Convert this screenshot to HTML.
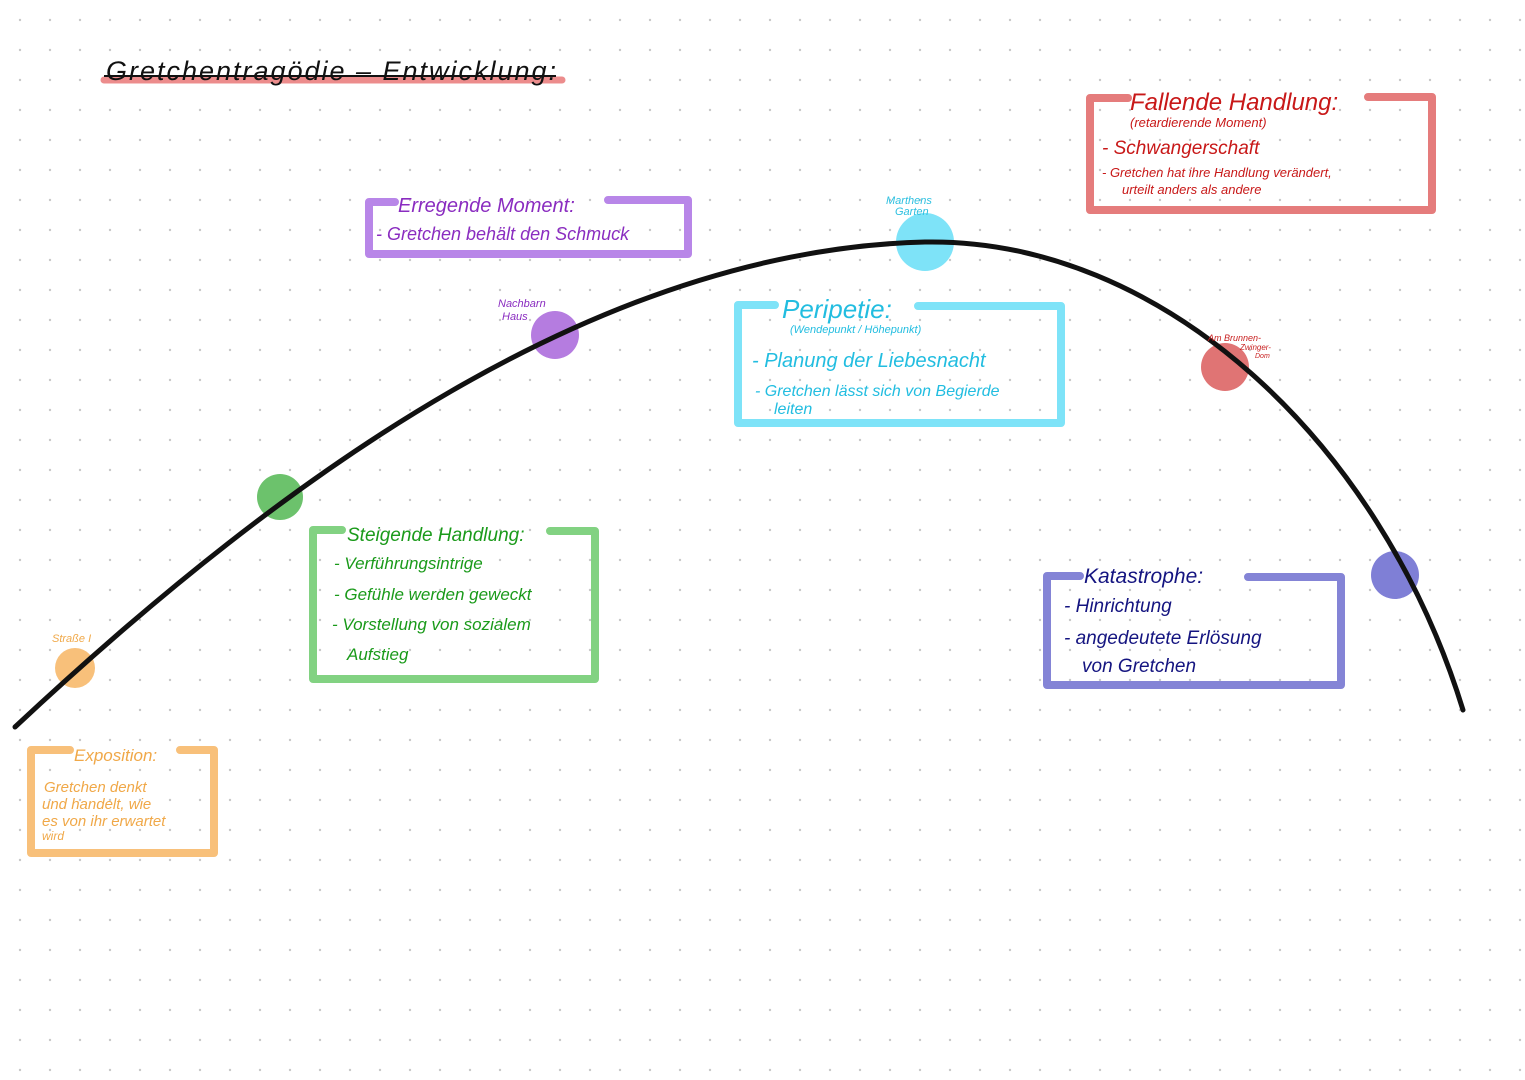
<!DOCTYPE html>
<html><head><meta charset="utf-8"><style>
html,body{margin:0;padding:0;background:#fff}
body{width:1525px;height:1080px;overflow:hidden;position:relative;font-family:"Liberation Sans",sans-serif}
svg{position:absolute;left:0;top:0}
text{font-family:"Liberation Sans",sans-serif;font-style:italic}
</style></head><body>
<svg width="1525" height="1080" viewBox="0 0 1525 1080">
<defs><pattern id="d" x="18" y="18" width="30" height="30" patternUnits="userSpaceOnUse"><circle cx="2" cy="2" r="1.2" fill="#c8c8c8"/></pattern></defs>
<rect width="1525" height="1080" fill="url(#d)"/>
<line x1="104" y1="80" x2="562" y2="80" stroke="#ec8c8c" stroke-width="7" stroke-linecap="round"/>
<text x="106" y="80" font-size="27" fill="#111" textLength="450">Gretchentragödie – Entwicklung:</text>
<line x1="104" y1="76" x2="556" y2="76" stroke="#111" stroke-width="2"/>

<circle cx="75" cy="668" r="20" fill="#f8c07a"/>
<circle cx="280" cy="497" r="23" fill="#6cc26c"/>
<circle cx="555" cy="335" r="24" fill="#b57ce0"/>
<circle cx="925" cy="242" r="29" fill="#7ee3f8"/>
<circle cx="1225" cy="367" r="24" fill="#e07474"/>
<circle cx="1395" cy="575" r="24" fill="#7f7fd6"/>
<path d="M15 727 C 290 470, 600 250, 925 242 C 1160 238, 1380 440, 1463 710" fill="none" stroke="#111" stroke-width="5" stroke-linecap="round"/>

<text x="52" y="642" font-size="11" fill="#f0a848">Straße I</text>
<text x="498" y="307" font-size="11" fill="#8a2cc0">Nachbarn</text>
<text x="502" y="320" font-size="11" fill="#8a2cc0">Haus</text>
<text x="886" y="204" font-size="11" fill="#2cc0e0">Marthens</text>
<text x="895" y="215" font-size="11" fill="#2cc0e0">Garten</text>
<text x="1208" y="341" font-size="9" fill="#c82020">Am Brunnen-</text>
<text x="1240" y="350" font-size="8" fill="#c82020">Zwinger-</text>
<text x="1255" y="358" font-size="7" fill="#c82020">Dom</text>

<g fill="none" stroke-width="8" stroke-linejoin="round" stroke-linecap="round">
<path d="M70 750 H31 V853 H214 V750 H180" stroke="#f8c07a"/>
<path d="M342 530 H313 V679 H595 V531 H550" stroke="#82d282"/>
<path d="M395 202 H369 V254 H688 V200 H608" stroke="#b886e8"/>
<path d="M775 305 H738 V423 H1061 V306 H918" stroke="#7ee3f8"/>
<path d="M1128 98 H1090 V210 H1432 V97 H1368" stroke="#e57c7c"/>
<path d="M1080 576 H1047 V685 H1341 V577 H1248" stroke="#8484d6"/>
</g>

<g fill="#f0a848" font-size="15">
<text x="74" y="761" font-size="17">Exposition:</text>
<text x="44" y="792">Gretchen denkt</text>
<text x="42" y="809">und handelt, wie</text>
<text x="42" y="826">es von ihr erwartet</text>
<text x="42" y="840" font-size="12">wird</text>
</g>
<g fill="#1a9a1a" font-size="17">
<text x="347" y="541" font-size="19">Steigende Handlung:</text>
<text x="334" y="569">- Verführungsintrige</text>
<text x="334" y="600">- Gefühle werden geweckt</text>
<text x="332" y="630">- Vorstellung von sozialem</text>
<text x="347" y="660">Aufstieg</text>
</g>
<g fill="#8a2cc0" font-size="18">
<text x="398" y="212" font-size="20">Erregende Moment:</text>
<text x="376" y="240">- Gretchen behält den Schmuck</text>
</g>
<g fill="#22bde0">
<text x="782" y="318" font-size="26">Peripetie:</text>
<text x="790" y="333" font-size="11">(Wendepunkt / Höhepunkt)</text>
<text x="752" y="367" font-size="20">- Planung der Liebesnacht</text>
<text x="755" y="396" font-size="16">- Gretchen lässt sich von Begierde</text>
<text x="774" y="414" font-size="16">leiten</text>
</g>
<g fill="#c81818">
<text x="1130" y="110" font-size="24">Fallende Handlung:</text>
<text x="1130" y="127" font-size="13">(retardierende Moment)</text>
<text x="1102" y="154" font-size="19">- Schwangerschaft</text>
<text x="1102" y="177" font-size="13">- Gretchen hat ihre Handlung verändert,</text>
<text x="1122" y="194" font-size="13">urteilt anders als andere</text>
</g>
<g fill="#141480" font-size="19">
<text x="1084" y="583" font-size="21">Katastrophe:</text>
<text x="1064" y="612">- Hinrichtung</text>
<text x="1064" y="644">- angedeutete Erlösung</text>
<text x="1082" y="672">von Gretchen</text>
</g>
</svg>
</body></html>
